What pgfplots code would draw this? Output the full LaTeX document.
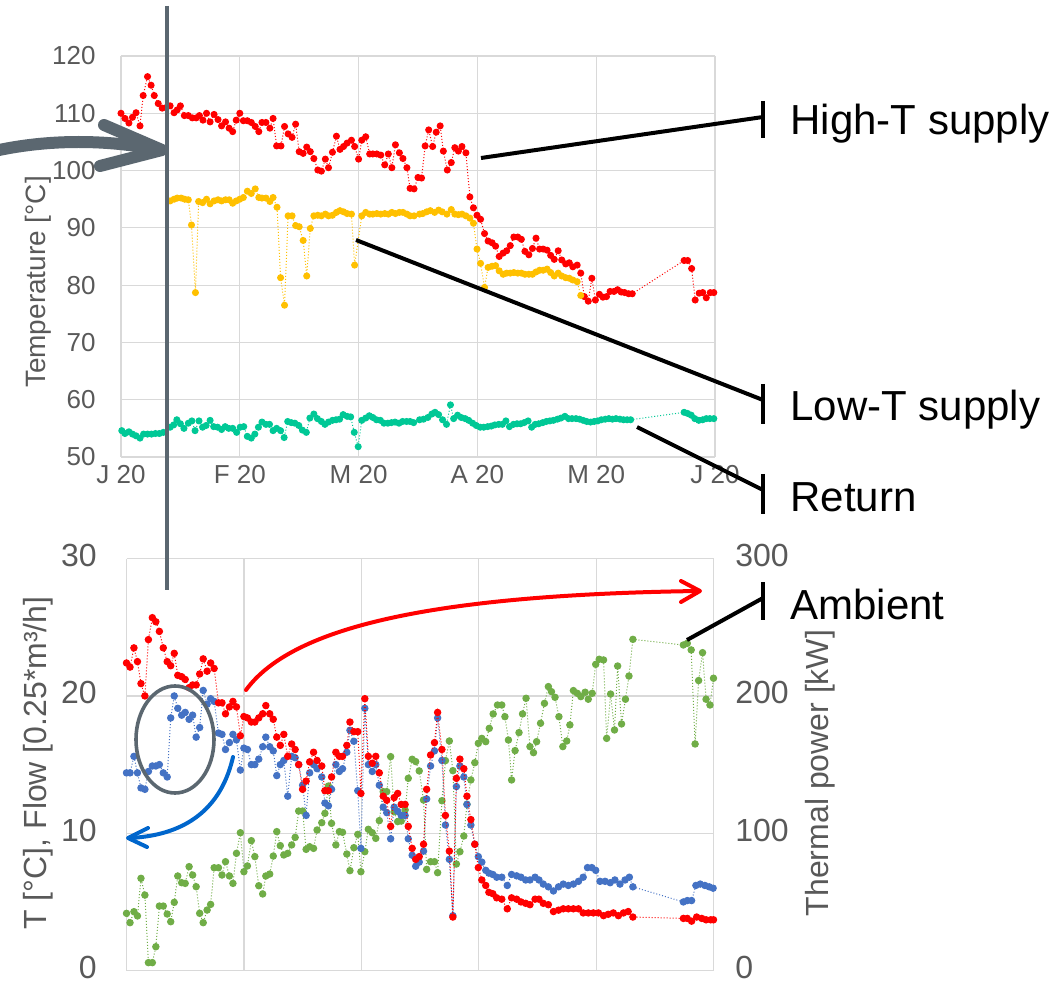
\documentclass[border=0pt]{standalone}
\usepackage{fontspec}
\setmainfont{Liberation Sans}
\usepackage{pgfplots}
\pgfplotsset{compat=1.18}
\definecolor{redc}{HTML}{FF0000}
\definecolor{orangec}{HTML}{FFC000}
\definecolor{tealc}{HTML}{00C896}
\definecolor{bluec}{HTML}{4472C4}
\definecolor{greenc}{HTML}{70AD47}
\definecolor{arrowblue}{HTML}{0066CC}
\definecolor{gridc}{HTML}{D9D9D9}
\definecolor{tickc}{HTML}{595959}
\definecolor{slate}{HTML}{5B6770}
\newcommand{\fs}[1]{\fontsize{#1}{#1}\selectfont}
\pgfplotsset{
  panel/.style={
    scale only axis, anchor=south west,
    xmin=0, xmax=150,
    grid=major, grid style={draw=gridc, line width=0.6pt},
    axis line style={draw=none}, major tick style={draw=none},
    /pgf/number format/assume math mode=true,
    every axis plot/.append style={densely dotted, line width=0.5pt, mark=*, mark options={solid}},
  },
}

\begin{document}
% 1 px of the reference = 0.5pt; y runs downward as negative numbers
\begin{tikzpicture}[x=0.5pt,y=0.5pt]
\useasboundingbox (0,0) rectangle (1056,-984);

% ---------- top: supply / return temperatures ----------
\begin{axis}[panel,
  at={(60.5pt,-228.5pt)}, width=297pt, height=200.5pt,
  ymin=50, ymax=120, ytick={50,60,...,120},
  xtick={0,30,60,90,120,150}, xticklabels={J 20,F 20,M 20,A 20,M 20,J 20},
  yticklabel style={font=\fs{13}, color=tickc, anchor=east, inner sep=0pt, xshift=-12.5pt},
  xticklabel style={font=\fs{13}, color=tickc, anchor=north, inner sep=0pt, yshift=-4pt},
  every axis plot/.append style={mark size=1.5pt},
]
\addplot[redc] coordinates {
(0,110.0) (1.0,109.1) (2.0,108.3) (2.9,109.3) (3.8,110.1) (4.8,107.8) (5.6,113.1) (6.7,116.4)
(7.6,114.9) (8.4,113.1) (9.4,111.7) (10.4,110.9) (11.4,111.0) (12.4,111.3) (13.4,110.1) (14.2,110.6)
(15.0,111.3) (16.0,109.6) (17.0,109.6) (18.0,109.2) (19.0,109.2) (19.8,109.6) (20.7,108.8) (21.6,110.0)
(22.5,108.5) (23.5,109.8) (24.5,108.9) (25.4,107.8) (26.4,108.5) (27.3,107.4) (28.2,106.8) (29.1,108.8)
(30.0,110.0) (30.9,108.7) (31.9,108.7) (32.9,108.4) (33.9,107.7) (34.8,106.8) (35.6,108.4) (36.6,108.4)
(37.6,107.4) (38.4,109.1) (39.3,104.3) (40.4,104.3) (41.3,107.7) (42.2,106.4) (43.2,105.8) (44.1,108.1)
(45.0,103.3) (46.0,103.0) (46.9,104.1) (47.8,103.3) (48.7,102.1) (49.7,100.1) (50.6,99.9) (51.6,102.0)
(52.4,100.5) (53.4,103.2) (54.4,106.0) (55.3,103.7) (56.2,104.2) (57.1,104.8) (58.2,105.3) (59.0,104.2)
(60.0,102.0) (60.8,105.3) (61.8,105.9) (62.8,102.9) (63.6,102.9) (64.6,102.9) (65.6,102.7) (66.6,101.0)
(67.5,102.9) (68.4,100.5) (69.3,104.5) (70.3,103.1) (71.2,102.1) (72.2,100.5) (73.0,96.9) (74.0,96.8)
(75.0,98.8) (75.9,98.7) (76.8,104.3) (77.7,107.1) (78.7,104.2) (79.6,106.7) (80.6,107.8) (81.4,103.4)
(82.4,100.1) (83.4,101.4) (84.3,104.0) (85.2,103.4) (86.1,104.2) (87.1,103.1) (88.1,95.4) (89.0,93.5)
(89.9,92.2) (90.8,91.5) (91.8,89.0) (92.7,87.7) (93.7,87.4) (94.6,86.8) (95.5,85.0) (96.5,85.6)
(97.4,86.0) (98.3,86.9) (99.2,88.4) (100.2,88.4) (101.1,88.0) (102.0,85.9) (103.0,85.3) (103.9,86.4)
(104.8,88.2) (105.7,86.3) (106.6,86.3) (107.6,86.1) (108.5,85.2) (109.4,84.5) (110.4,86.0) (111.3,84.4)
(112.3,83.7) (113.2,83.9) (114.1,83.2) (115.2,83.5) (116.1,82.1) (117.0,78.0) (118.0,77.2) (118.9,81.2)
(119.8,77.4) (120.8,78.4) (121.7,77.9) (122.6,78.0) (123.5,78.9) (124.5,78.9) (125.4,79.2) (126.3,78.8)
(127.2,78.7) (128.2,78.5) (129.1,78.5) (142.2,84.3) (143.1,84.3) (144.1,82.9) (145.0,77.4) (146.0,78.6)
(146.9,78.7) (147.8,77.8) (148.8,78.7) (149.7,78.7)
};
\addplot[orangec] coordinates {
(12.4,94.7) (13.4,95.0) (14.2,95.2) (15.2,95.2) (16.1,95.0) (17.0,94.9) (17.8,90.5) (18.8,78.7)
(19.6,94.6) (20.6,94.4) (21.6,95.0) (22.5,94.2) (23.5,94.7) (24.5,94.9) (25.4,94.7) (26.4,94.9)
(27.3,94.9) (28.2,94.3) (29.1,94.7) (30.0,95.0) (30.9,95.3) (31.9,96.4) (32.9,96.0) (33.9,96.8)
(34.8,95.3) (35.6,95.2) (36.6,95.2) (37.6,94.6) (38.4,95.3) (39.4,93.6) (40.3,81.3) (41.3,76.5)
(42.2,92.1) (43.2,92.1) (44.1,90.4) (45.0,90.2) (46.0,87.8) (46.9,81.6) (47.8,89.9) (48.7,92.1)
(49.7,92.2) (50.6,92.1) (51.6,92.4) (52.4,92.1) (53.4,92.2) (54.4,92.7) (55.3,93.0) (56.2,92.8)
(57.1,92.5) (58.2,92.4) (59.0,83.5) (60.8,92.1) (61.8,92.7) (62.8,92.4) (63.6,92.4) (64.6,92.5)
(65.6,92.4) (66.6,92.5) (67.5,92.4) (68.4,92.7) (69.3,92.5) (70.3,92.7) (71.2,92.7) (72.2,92.4)
(73.0,92.1) (74.0,92.1) (75.4,92.4) (76.2,92.5) (77.2,92.8) (78.1,93.0) (79.2,92.7) (80.2,93.1)
(81.1,92.8) (82.3,92.4) (83.4,93.2) (84.3,92.4) (85.2,92.3) (86.1,92.4) (87.1,92.1) (88.1,91.7)
(89.0,90.8) (89.9,86.3) (90.8,83.8) (91.8,79.6) (92.7,83.1) (93.7,83.3) (94.6,83.4) (95.5,82.5)
(96.5,81.9) (97.4,82.1) (98.3,82.1) (99.2,82.2) (100.2,82.1) (101.1,82.1) (102.0,81.9) (103.0,81.9)
(103.9,81.9) (104.8,82.3) (105.7,82.6) (106.6,82.6) (107.6,82.8) (108.5,82.2) (109.4,81.6) (110.4,82.1)
(111.3,81.6) (112.3,81.3) (113.2,81.2) (114.1,80.9) (115.2,80.6) (116.1,78.2)
};
\addplot[tealc] coordinates {
(0.2,54.6) (1.0,54.1) (2.0,54.4) (2.9,54.0) (3.8,53.7) (4.8,53.3) (5.7,54.0) (6.7,54.0)
(7.7,54.0) (8.7,54.1) (9.7,54.1) (10.7,54.3) (12.4,55.2) (13.3,55.6) (14.1,56.5) (15.0,55.8)
(15.9,55.0) (17.0,55.9) (17.9,56.3) (18.7,54.6) (19.7,56.3) (20.6,55.2) (21.5,55.5) (22.5,56.4)
(23.4,55.3) (24.4,55.2) (25.4,54.8) (26.3,55.3) (27.2,55.0) (28.2,55.0) (29.2,54.3) (30.1,55.2)
(31.0,55.3) (31.9,53.6) (32.9,53.3) (33.8,54.0) (34.7,55.2) (35.6,56.1) (36.6,55.7) (37.5,55.7)
(38.4,54.6) (39.3,55.0) (40.3,54.6) (41.2,53.4) (42.1,56.2) (43.0,56.0) (43.9,55.9) (44.9,55.5)
(45.8,54.7) (46.8,54.3) (47.7,56.8) (48.7,57.5) (49.6,56.7) (50.6,56.2) (51.5,55.7) (52.4,56.1)
(53.4,56.4) (54.3,56.5) (55.2,56.6) (56.1,57.4) (57.1,57.1) (58.0,57.0) (58.9,54.3) (59.9,51.8)
(60.8,56.4) (61.8,56.8) (62.7,57.2) (63.6,56.9) (64.5,56.5) (65.5,56.4) (66.4,55.9) (67.4,55.9)
(68.3,56.0) (69.2,56.1) (70.2,55.9) (71.1,56.2) (72.1,56.2) (73.0,56.2) (73.9,56.0) (75.4,56.5)
(76.4,56.6) (77.5,56.9) (78.5,57.5) (79.3,57.8) (80.2,57.4) (81.2,56.5) (82.2,55.7) (83.2,59.1)
(84.0,56.7) (85.0,57.3) (85.9,56.9) (86.9,56.7) (87.8,56.4) (88.8,55.9) (89.7,55.5) (90.7,55.2)
(91.6,55.2) (92.6,55.3) (93.5,55.4) (94.4,55.6) (95.4,55.7) (96.3,55.7) (97.2,56.3) (98.1,55.3)
(99.1,55.7) (100.0,55.8) (100.9,55.8) (101.8,56.0) (102.8,56.3) (103.7,55.2) (104.6,55.7) (105.5,55.8)
(106.5,56.0) (107.4,56.2) (108.3,56.3) (109.2,56.4) (110.2,56.6) (111.1,56.8) (112.1,57.1) (113.0,56.7)
(113.9,56.7) (114.9,56.7) (115.8,56.6) (116.7,56.4) (117.6,56.2) (118.6,56.1) (119.5,56.2) (120.4,56.3)
(121.3,56.5) (122.3,56.6) (123.2,56.7) (124.1,56.6) (125.0,56.7) (126.0,56.6) (126.9,56.5) (127.8,56.5)
(128.7,56.5) (142.2,57.8) (143.1,57.6) (144.0,57.3) (144.9,56.7) (145.9,56.4) (146.9,56.5) (147.8,56.7)
(148.7,56.7) (149.7,56.7)
};
\end{axis}

% ---------- bottom: ambient T and flow (left axis) ----------
\begin{axis}[panel,
  at={(63.25pt,-485.3pt)}, width=293.5pt, height=206pt,
  ymin=0, ymax=30, ytick={0,10,20,30},
  xtick={0,30,60,90,120,150}, xticklabels={,,,,,},
  yticklabel style={font=\fs{16}, color=tickc, anchor=east, inner sep=0pt, xshift=-14.75pt, yshift=1.5pt},
  every axis plot/.append style={mark size=1.6pt},
]
\addplot[greenc] coordinates {
(0,4.17) (0.9,3.49) (1.9,4.29) (2.8,3.98) (3.7,6.72) (4.7,5.50) (5.6,0.58) (6.6,0.58)
(7.5,1.74) (8.4,4.70) (9.4,4.70) (10.4,4.12) (11.3,3.56) (12.2,4.97) (13.1,6.89) (14.1,6.40)
(15.0,6.35) (16.0,7.57) (16.9,6.96) (17.8,6.11) (18.7,4.17) (19.6,3.49) (20.6,4.41) (21.5,4.82)
(22.4,7.49) (23.5,7.49) (24.4,6.96) (25.3,7.93) (26.3,6.89) (27.2,6.35) (28.1,8.54) (29.1,10.04)
(30.0,7.20) (30.9,7.62) (31.9,9.46) (32.8,8.30) (33.8,6.18) (34.8,5.58) (35.6,6.89) (36.6,7.03)
(37.5,8.34) (38.4,10.12) (39.3,9.10) (40.2,8.42) (41.2,8.54) (42.2,9.15) (43.1,9.70) (44.0,11.62)
(45.0,11.62) (45.9,8.83) (46.8,9.02) (47.8,8.90) (48.7,10.24) (49.9,10.77) (50.7,11.45) (51.6,13.44)
(52.4,10.72) (53.5,9.15) (54.4,10.12) (55.2,10.07) (56.3,8.49) (57.1,7.28) (58.1,8.95) (59.1,9.92)
(59.9,7.20) (60.9,8.66) (61.8,10.29) (62.8,10.04) (63.7,9.63) (64.6,10.92) (65.6,13.03) (66.5,13.03)
(67.5,15.58) (68.4,11.57) (69.3,10.85) (70.2,10.89) (71.2,11.70) (72.0,14.00) (73.0,15.39) (73.9,15.22)
(74.8,14.54) (75.9,12.42) (76.7,7.37) (77.7,7.93) (78.7,7.93) (79.5,7.13) (80.6,12.37) (81.5,15.29)
(82.5,16.72) (83.4,14.56) (84.3,7.76) (85.2,8.66) (86.2,9.80) (87.0,12.11) (88.0,13.88) (89.0,15.14)
(89.9,16.55) (90.8,16.91) (91.8,16.67) (92.7,17.64) (93.7,18.69) (94.8,19.34) (95.9,19.34) (96.7,18.49)
(97.6,16.79) (98.4,13.88) (99.3,16.02) (100.3,17.33) (101.2,18.69) (102.1,19.83) (103.1,16.31) (104.0,15.87)
(104.8,16.67) (105.8,18.01) (106.8,19.46) (107.8,20.68) (108.6,20.31) (109.5,19.90) (110.5,18.49) (111.5,16.31)
(112.5,16.72) (113.3,17.89) (114.2,20.39) (115.2,20.19) (116.1,19.95) (117.2,20.27) (118.0,19.76) (119.0,20.19)
(119.9,22.30) (120.8,22.67) (121.9,22.62) (122.7,16.91) (123.7,20.14) (124.7,17.52) (125.5,22.18) (126.5,17.96)
(127.5,19.76) (128.4,21.45) (129.4,24.12) (142.3,23.71) (143.3,23.83) (144.3,23.35) (145.3,16.50) (146.2,21.12)
(147.2,23.15) (148.1,19.76) (149.1,19.34) (150.0,21.29)
};
\addplot[bluec] coordinates {
(0,14.4) (0.9,14.4) (1.9,15.6) (2.8,14.4) (3.7,13.3) (4.7,13.2) (5.6,14.5) (6.6,14.9)
(7.5,14.9) (8.4,15.0) (9.4,14.4) (10.4,14.1) (11.3,18.4) (12.2,20.0) (13.1,19.1) (14.1,18.6)
(15.0,18.8) (16.0,18.3) (16.9,18.6) (17.8,17.0) (18.7,17.7) (19.6,20.4) (20.6,19.4) (21.5,19.8)
(22.4,19.6) (23.5,17.3) (24.4,17.2) (25.3,16.1) (26.3,16.6) (27.2,17.2) (28.1,16.8) (29.1,14.6)
(30.0,16.2) (30.9,16.1) (31.9,15.0) (32.8,15.0) (33.8,15.4) (34.8,16.3) (35.6,17.0) (36.6,16.3)
(37.5,16.0) (38.4,14.2) (39.3,15.0) (40.2,15.3) (41.2,12.7) (42.2,15.6) (43.1,15.5) (44.0,15.0)
(45.0,13.5) (45.9,11.3) (46.8,14.4) (47.8,15.0) (48.7,14.7) (49.9,14.1) (50.7,12.2) (51.6,12.0)
(52.4,13.2) (53.5,15.0) (54.4,14.5) (55.2,14.7) (56.3,15.9) (57.1,17.5) (58.1,16.7) (59.1,13.1)
(59.9,8.9) (60.9,19.1) (61.8,15.0) (62.8,14.5) (63.7,15.0) (64.6,13.5) (65.6,11.9) (66.5,11.5)
(67.5,9.6) (68.4,11.9) (69.3,11.6) (70.2,11.3) (71.2,11.3) (72.0,9.6) (73.0,8.4) (73.9,7.6)
(74.8,7.9) (75.9,8.7) (76.7,12.5) (77.7,14.9) (78.7,16.0) (79.5,18.4) (80.6,15.3) (81.5,10.6)
(82.5,8.1) (83.4,4.0) (84.3,13.4) (85.2,14.9) (86.2,14.1) (87.0,12.1) (88.0,10.6) (89.0,9.2)
(89.9,8.3) (90.8,7.9) (91.8,7.3) (92.6,7.1) (93.6,7.0) (94.6,6.8) (95.9,6.8) (97.3,6.2)
(98.4,7.0) (99.7,6.9) (100.8,6.8) (102.0,6.6) (103.1,6.6) (104.4,6.8) (105.4,6.6) (106.5,6.3)
(107.8,6.1) (109.1,5.8) (110.4,6.1) (111.6,6.3) (112.9,6.2) (114.2,6.3) (115.5,6.5) (116.7,6.8)
(117.8,7.5) (118.9,7.5) (119.9,7.3) (121.0,6.5) (122.3,6.5) (123.6,6.4) (124.8,6.6) (126.1,6.3)
(127.4,6.6) (128.5,6.8) (129.4,6.1) (142.3,5.0) (143.3,5.1) (144.4,5.1) (145.5,6.2) (146.6,6.3)
(147.8,6.2) (148.9,6.1) (149.9,6.0)
};
\end{axis}

% ---------- bottom: thermal power (right axis) ----------
\begin{axis}[panel,
  at={(63.25pt,-485.3pt)}, width=293.5pt, height=206pt,
  ymin=0, ymax=300, ytick={0,100,200,300}, grid=none,
  axis y line*=right, axis x line=none,
  yticklabel style={font=\fs{16}, color=tickc, anchor=west, inner sep=0pt, xshift=10.75pt, yshift=1.5pt},
  every axis plot/.append style={mark size=1.6pt},
]
\addplot[redc] coordinates {
(0,224) (0.9,221) (1.9,235) (2.8,225) (3.7,209) (4.7,200) (5.6,241) (6.6,257)
(7.5,254) (8.4,247) (9.4,235) (10.4,225) (11.3,222) (12.2,231) (13.1,215) (14.1,214)
(15.0,212) (16.0,206) (16.9,208) (17.8,208) (18.7,216) (19.6,227) (20.6,218) (21.5,224)
(22.4,220) (23.5,195) (24.4,195) (25.3,187) (26.3,192) (27.2,196) (28.1,192) (29.1,171)
(30.0,185) (30.9,184) (31.9,181) (32.8,181) (33.8,184) (34.8,187) (35.6,193) (36.6,187)
(37.5,183) (38.4,170) (39.3,164) (40.2,172) (41.2,156) (42.2,165) (43.1,161) (44.0,150)
(45.0,132) (45.9,138) (46.8,152) (47.8,159) (48.7,153) (49.9,149) (50.7,131) (51.6,131)
(52.4,141) (53.5,159) (54.4,156) (55.2,156) (56.3,164) (57.1,181) (58.1,174) (59.1,174)
(59.9,129) (60.9,198) (61.8,156) (62.8,151) (63.7,156) (64.6,144) (65.6,127) (66.5,124)
(67.5,105) (68.4,126) (69.3,129) (70.2,121) (71.2,121) (72.0,105) (73.0,89) (73.9,81)
(74.8,83) (75.9,92) (76.7,132) (77.7,157) (78.7,166) (79.5,188) (80.6,161) (81.5,113)
(82.5,87) (83.4,39) (84.3,140) (85.2,154) (86.2,147) (87.0,127) (88.0,110) (89.0,92)
(89.9,75) (90.8,66) (91.8,62) (92.6,57) (93.6,56) (94.6,53) (95.9,52) (97.3,45)
(98.4,53) (99.7,52) (100.8,50) (102.0,49) (103.1,48) (104.4,52) (105.4,52) (106.5,49)
(107.8,48) (109.1,43) (110.4,44) (111.6,45) (112.9,45) (114.2,45) (115.5,45) (116.7,42)
(118.0,42) (119.3,42) (120.6,42) (121.9,40) (123.1,41) (124.4,42) (125.7,40) (127.0,42)
(128.2,43) (129.4,39) (142.3,38) (143.3,38) (144.4,36) (145.7,39) (147.0,38) (148.1,37)
(149.3,37) (150.0,37)
};
\end{axis}

% ---------- axis titles ----------
\node[rotate=90, font=\fs{14}, text=tickc] at (38,-282) {Temperature [°C]};
\node[rotate=90, font=\fs{16}, text=tickc] at (38,-763) {T [°C], Flow [0.25*m³/h]};
\node[rotate=90, font=\fs{16}, text=tickc] at (820,-773) {Thermal power [kW]};

% ---------- annotations ----------
\draw[slate, line width=2pt] (167,-6) -- (167,-590);
\draw[slate, line width=6pt, line cap=round] (-10,-152) .. controls (50,-138) and (110,-140) .. (160,-150);
\draw[slate, line width=6pt, line cap=round, line join=round] (104,-125) -- (162,-150) -- (100,-166);
\draw[slate, line width=1.8pt] (175,-739.5) ellipse [x radius=39, y radius=53.5];

\draw[redc, line width=2pt, line cap=round] (246,-690) .. controls (290,-630) and (420,-595) .. (698,-591);
\draw[redc, line width=2pt, line cap=round, line join=round] (681,-581) -- (700,-591) -- (681,-602);
\draw[arrowblue, line width=2pt, line cap=round] (233,-757) .. controls (222,-805) and (190,-835) .. (130,-838);
\draw[arrowblue, line width=2pt, line cap=round, line join=round] (148,-828) -- (128,-838) -- (147,-847);

\begin{scope}[black, line width=2pt]
\draw (481,-158) -- (763,-117);  \draw (763,-101) -- (763,-138);
\draw (356,-240) -- (763,-400);  \draw (763,-384) -- (763,-424);
\draw (637,-427) -- (763,-490);  \draw (763,-474) -- (763,-514);
\draw (687,-640) -- (763,-598);  \draw (763,-582) -- (763,-620);
\end{scope}
\node[anchor=west, font=\fs{21}, inner sep=0pt] at (790,-124) {High-T supply};
\node[anchor=west, font=\fs{21}, inner sep=0pt] at (790,-410) {Low-T supply};
\node[anchor=west, font=\fs{21}, inner sep=0pt] at (790,-497) {Return};
\node[anchor=west, font=\fs{21}, inner sep=0pt] at (790,-604) {Ambient};
\end{tikzpicture}
\end{document}
